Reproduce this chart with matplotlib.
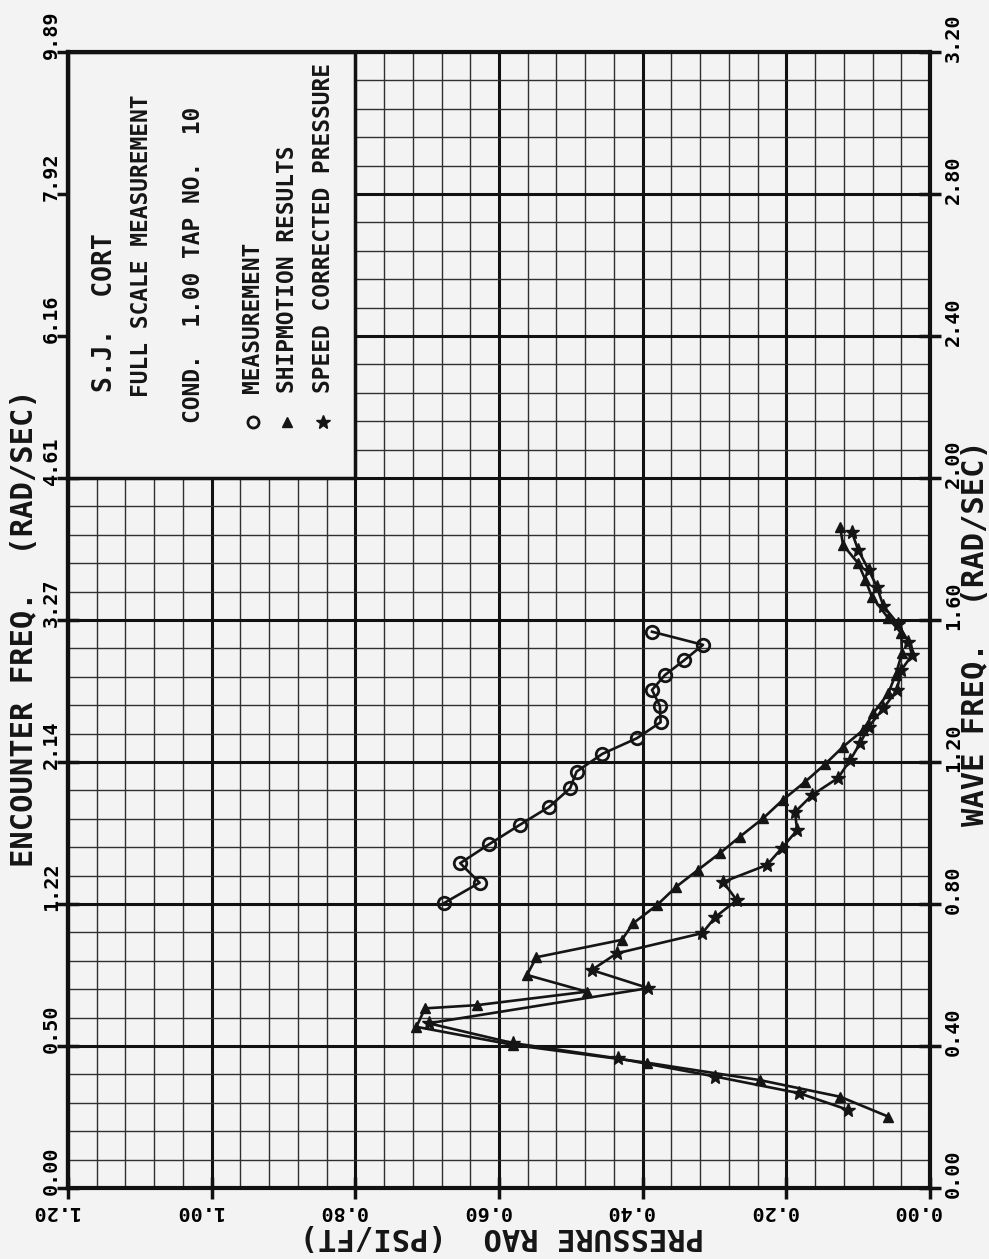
import matplotlib
matplotlib.use("Agg")
import matplotlib.pyplot as plt
from matplotlib.patches import Rectangle
from matplotlib.transforms import ScaledTranslation
import numpy as np

# ---------------- data ----------------
meas_w = [0.802, 0.860, 0.915, 0.968, 1.023, 1.074, 1.126, 1.173, 1.223, 1.267,
          1.312, 1.358, 1.403, 1.445, 1.487, 1.530, 1.567]
meas_p = [0.677, 0.627, 0.654, 0.614, 0.571, 0.530, 0.501, 0.492, 0.456, 0.408,
          0.375, 0.376, 0.387, 0.369, 0.342, 0.316, 0.387]

ship_w = [0.201, 0.257, 0.304, 0.353, 0.403, 0.454, 0.506, 0.515, 0.553, 0.600,
          0.650, 0.699, 0.746, 0.797, 0.849, 0.896, 0.944, 0.989, 1.042, 1.093,
          1.144, 1.194, 1.243, 1.290, 1.337, 1.394, 1.445, 1.506, 1.563, 1.605,
          1.666, 1.713, 1.760, 1.811, 1.861]
ship_p = [0.058, 0.125, 0.237, 0.394, 0.580, 0.715, 0.703, 0.631, 0.478, 0.561,
          0.548, 0.429, 0.413, 0.380, 0.353, 0.323, 0.292, 0.265, 0.232, 0.205,
          0.174, 0.146, 0.121, 0.093, 0.079, 0.058, 0.048, 0.039, 0.040, 0.058,
          0.081, 0.090, 0.100, 0.121, 0.125]

speed_w = [0.220, 0.267, 0.314, 0.365, 0.408, 0.464, 0.563, 0.614, 0.661, 0.718,
           0.763, 0.811, 0.862, 0.910, 0.958, 1.008, 1.059, 1.107, 1.155, 1.206,
           1.254, 1.300, 1.351, 1.403, 1.459, 1.501, 1.539, 1.590, 1.640, 1.694,
           1.740, 1.797, 1.849]
speed_p = [0.114, 0.182, 0.299, 0.434, 0.580, 0.698, 0.392, 0.471, 0.436, 0.317,
           0.299, 0.269, 0.288, 0.227, 0.206, 0.185, 0.188, 0.164, 0.128, 0.111,
           0.097, 0.085, 0.065, 0.046, 0.040, 0.025, 0.030, 0.045, 0.065, 0.074,
           0.085, 0.100, 0.109]

wave_ticks = [0.00, 0.40, 0.80, 1.20, 1.60, 2.00, 2.40, 2.80, 3.20]
wave_labels = ["0.00", "0.40", "0.80", "1.20", "1.60", "2.00", "2.40", "2.80", "3.20"]
enc_labels = ["0.00", "0.50", "1.22", "2.14", "3.27", "4.61", "6.16", "7.92", "9.89"]
pres_ticks = [0.00, 0.20, 0.40, 0.60, 0.80, 1.00, 1.20]
pres_labels = ["0.00", "0.20", "0.40", "0.60", "0.80", "1.00", "1.20"]

title_lines = ["S.J.  CORT", "FULL SCALE MEASUREMENT", "COND.  1.00 TAP NO.  10"]
legend_labels = ["MEASUREMENT", "SHIPMOTION RESULTS", "SPEED CORRECTED PRESSURE"]

# ---------------- figure ----------------
BG = "#f3f3f3"
INK = "#151515"
FONT = "DejaVu Sans Mono"
W, H = 989, 1259
fig = plt.figure(figsize=(W / 100, H / 100), dpi=100, facecolor=BG)
L, R, T, B = 68, 930, 52, 1188
ax = fig.add_axes([L / W, 1 - B / H, (R - L) / W, (B - T) / H])
ax.set_facecolor(BG)

ax.set_xlim(1.20, 0.0)
ax.set_ylim(0.0, 3.20)

# grid
ax.set_xticks(np.arange(0, 1.2001, 0.04), minor=True)
ax.set_yticks(np.arange(0, 3.2001, 0.08), minor=True)
ax.grid(which="minor", color="#303030", lw=1.0, zorder=0)
ax.grid(which="major", color="#111111", lw=2.2, zorder=0)
ax.set_axisbelow(True)

for s in ax.spines.values():
    s.set_linewidth(3.0)
    s.set_color("#111111")

# ticks
ax.yaxis.tick_right()
ax.set_yticks(wave_ticks, labels=wave_labels)
ax.set_xticks(pres_ticks, labels=pres_labels)
ax.tick_params(which="minor", length=0)
ax.tick_params(which="major", direction="inout", length=16, width=2.5, color="#111111")
ax.tick_params(axis="y", pad=2, labelsize=14.5, labelrotation=90)
ax.tick_params(axis="x", pad=2, labelsize=14.5, labelrotation=180)
for lbl in ax.get_yticklabels():
    lbl.set_fontfamily(FONT); lbl.set_fontweight("bold"); lbl.set_va("center")
for lbl in ax.get_xticklabels():
    lbl.set_fontfamily(FONT); lbl.set_fontweight("bold")

sec = ax.secondary_yaxis("left")
sec.set_yticks(wave_ticks, labels=enc_labels)
sec.tick_params(which="major", direction="inout", length=16, width=2.5, color="#111111",
                pad=2, labelsize=14.5, labelrotation=90)
sec.spines["left"].set_linewidth(3.0)
for lbl in sec.get_yticklabels():
    lbl.set_fontfamily(FONT); lbl.set_fontweight("bold"); lbl.set_va("center")

# axis labels (rotated like the plotter sheet)
lab_kw = dict(fontfamily=FONT, fontweight="bold", fontsize=22, color=INK,
              ha="center", va="center", transform=ax.transAxes)
ax.text((976 - L) / (R - L), (B - 633) / (B - T), "WAVE FREQ.  (RAD/SEC)",
        rotation=90, **lab_kw)
ax.text((25 - L) / (R - L), (B - 628) / (B - T), "ENCOUNTER FREQ.  (RAD/SEC)",
        rotation=90, **lab_kw)
ax.text((502 - L) / (R - L), (B - 1236) / (B - T), "PRESSURE RAO  (PSI/FT)",
        rotation=180, **lab_kw)

# legend box
ax.add_patch(Rectangle((0.80, 2.00), 0.40, 1.20, facecolor=BG, edgecolor="#111111",
                       lw=2.5, zorder=2, clip_on=False))

# curves
lw = 1.9
ax.plot(meas_p, meas_w, color=INK, lw=lw, marker="o", ms=9, mfc="none",
        mec=INK, mew=2.0, zorder=4)
ax.plot(ship_p, ship_w, color=INK, lw=lw, marker="^", ms=7, mfc=INK,
        mec=INK, zorder=4)
ax.plot(speed_p, speed_w, color=INK, lw=lw, marker="*", ms=10, mfc=INK,
        mec=INK, zorder=4)

# legend texts (rotated)
def px2data(x, y):
    return (R - x) / (R - L) * 1.2, (B - y) / (B - T) * 3.2

txt_kw = dict(fontfamily=FONT, fontweight="bold", rotation=90, ha="center", va="bottom",
              color=INK, zorder=5)
for (xc, ys, fs), s in zip([(105, 392, 19), (141, 397, 16.5), (193, 423, 16.5)], title_lines):
    p, w = px2data(xc, ys)
    ax.text(p, w, s, fontsize=fs, **txt_kw)
markers = [dict(marker="o", mfc="none", ms=8, mew=2.0), dict(marker="^", ms=7),
           dict(marker="*", ms=10)]
for xc, s, mk in zip([253, 287, 323], legend_labels, markers):
    p, w = px2data(xc, 393)
    ax.text(p, w, s, fontsize=16.5, **txt_kw)
    pm, wm = px2data(xc, 422)
    kw = dict(color=INK, mec=INK, zorder=5, ls="none")
    kw.update(mk)
    ax.plot([pm], [wm], **kw)

# shift tick labels along the axis like the plotter output
fig.canvas.draw()
up_r = ScaledTranslation(0, 0.14, fig.dpi_scale_trans)
up_l = ScaledTranslation(0.07, 0.17, fig.dpi_scale_trans)
left_b = ScaledTranslation(-0.13, 0, fig.dpi_scale_trans)
for t in ax.yaxis.get_major_ticks():
    t.label2.set_transform(t.label2.get_transform() + up_r)
for t in sec.yaxis.get_major_ticks():
    t.label1.set_transform(t.label1.get_transform() + up_l)
for t in ax.xaxis.get_major_ticks():
    t.label1.set_transform(t.label1.get_transform() + left_b)

fig.savefig("out.png", dpi=100, facecolor=BG)
